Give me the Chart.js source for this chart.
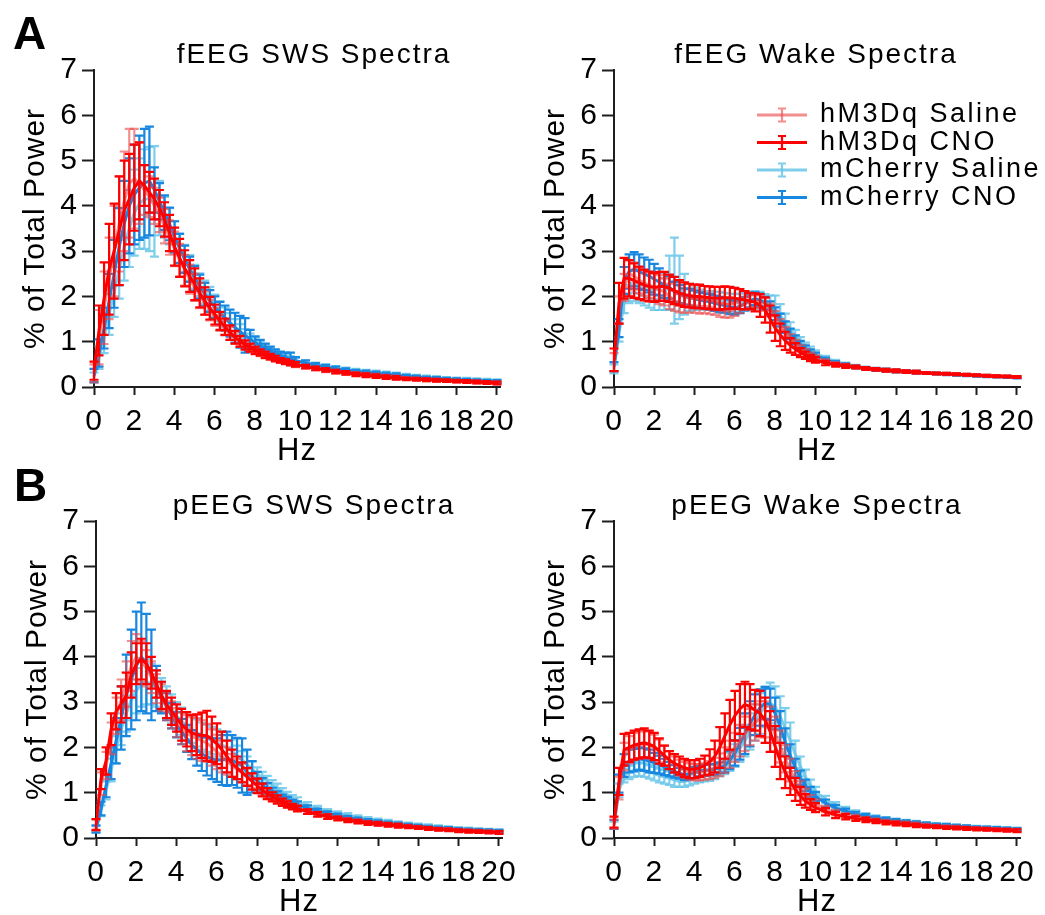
<!DOCTYPE html>
<html>
<head>
<meta charset="utf-8">
<title>EEG spectra</title>
<script src="https://cdn.jsdelivr.net/npm/chart.js@4.4.1/dist/chart.umd.min.js"></script>
<style>
  html, body { margin: 0; padding: 0; background: #fff; }
  body { position: relative; width: 1045px; height: 915px; overflow: hidden; font-family: "Liberation Sans", Arial, sans-serif; }
  canvas { position: absolute; }
  .letter { position: absolute; font-weight: bold; font-size: 46px; line-height: 1; color: #000; }
  .ptitle { position: absolute; width: 400px; text-align: center; font-size: 28px; line-height: 1; letter-spacing: 2px; white-space: nowrap; color: #000; }
</style>
</head>
<body>
<canvas id="cFSws" width="525" height="470" style="left:0;top:0"></canvas>
<canvas id="cFWake" width="525" height="470" style="left:520px;top:0"></canvas>
<canvas id="cPSws" width="525" height="470" style="left:2px;top:451px"></canvas>
<canvas id="cPWake" width="525" height="470" style="left:520px;top:451px"></canvas>

<div class="letter" style="left:13px;top:10px">A</div>
<div class="letter" style="left:14px;top:462px">B</div>
<div class="ptitle" style="left:114px;top:40px">fEEG SWS Spectra</div>
<div class="ptitle" style="left:616px;top:40px">fEEG Wake Spectra</div>
<div class="ptitle" style="left:114px;top:491px">pEEG SWS Spectra</div>
<div class="ptitle" style="left:617px;top:491px">pEEG Wake Spectra</div>

<script>
const freqHz = [
  0, 0.25, 0.5, 0.75, 1, 1.25, 1.5, 1.75, 2, 2.25,
  2.5, 2.75, 3, 3.25, 3.5, 3.75, 4, 4.25, 4.5, 4.75,
  5, 5.25, 5.5, 5.75, 6, 6.25, 6.5, 6.75, 7, 7.25,
  7.5, 7.75, 8, 8.25, 8.5, 8.75, 9, 9.25, 9.5, 9.75,
  10,
  10.5, 11, 11.5, 12, 12.5, 13, 13.5, 14, 14.5, 15,
  15.5, 16, 16.5, 17, 17.5, 18, 18.5, 19, 19.5, 20
];
const xTickValues = [0, 2, 4, 6, 8, 10, 12, 14, 16, 18, 20];
const yTickValues = [0, 1, 2, 3, 4, 5, 6, 7];
const seriesLabels = ["hM3Dq Saline", "hM3Dq CNO", "mCherry Saline", "mCherry CNO"];

// fEEG SWS
const fSws_hSal = [
  0.3, 1.1, 1.75, 2.4, 3.0, 3.6, 4.1, 4.5, 4.6, 4.5,
  4.35, 4.2, 4.0, 3.8, 3.55, 3.3, 3.05, 2.8, 2.58, 2.38,
  2.2, 2.02, 1.85, 1.7, 1.55, 1.42, 1.3, 1.18, 1.08, 1.0,
  0.92, 0.86, 0.8, 0.75, 0.7, 0.66, 0.62, 0.58, 0.55, 0.52,
  0.49,
  0.45, 0.41, 0.37, 0.34, 0.31, 0.29, 0.27, 0.25, 0.23, 0.21,
  0.19, 0.18, 0.16, 0.15, 0.14, 0.13, 0.12, 0.11, 0.1, 0.09
];
const fSws_hSalSem = [
  0.2, 0.6, 0.8, 0.9, 1.0, 1.05, 1.1, 1.2, 1.1, 0.9,
  0.55, 0.45, 0.4, 0.38, 0.38, 0.38, 0.38, 0.36, 0.34, 0.32,
  0.3, 0.28, 0.26, 0.23, 0.2, 0.18, 0.16, 0.14, 0.12, 0.11,
  0.1, 0.09, 0.08, 0.07, 0.07, 0.06, 0.06, 0.05, 0.05, 0.05,
  0.05,
  0.04, 0.04, 0.04, 0.04, 0.04, 0.04, 0.04, 0.04, 0.04, 0.04,
  0.03, 0.03, 0.03, 0.03, 0.03, 0.03, 0.03, 0.03, 0.03, 0.03
];
const fSws_hCno = [
  0.36, 1.25, 1.95, 2.6, 3.0, 3.45, 3.9, 4.15, 4.4, 4.55,
  4.45, 4.3, 4.15, 3.95, 3.7, 3.4, 3.1, 2.85, 2.62, 2.45,
  2.27, 2.08, 1.9, 1.74, 1.6, 1.46, 1.33, 1.2, 1.1, 1.01,
  0.93, 0.87, 0.81, 0.76, 0.71, 0.67, 0.63, 0.59, 0.56, 0.53,
  0.5,
  0.45, 0.41, 0.38, 0.34, 0.31, 0.28, 0.26, 0.24, 0.22, 0.2,
  0.18, 0.17, 0.16, 0.15, 0.14, 0.13, 0.12, 0.11, 0.1, 0.09
];
const fSws_hCnoSem = [
  0.2, 0.55, 0.8, 1.0, 1.05, 1.2, 1.1, 1.0, 0.95, 0.85,
  0.45, 0.45, 0.45, 0.4, 0.38, 0.4, 0.42, 0.42, 0.4, 0.35,
  0.35, 0.32, 0.3, 0.25, 0.22, 0.2, 0.18, 0.16, 0.14, 0.12,
  0.1, 0.09, 0.08, 0.07, 0.07, 0.06, 0.06, 0.05, 0.05, 0.05,
  0.05,
  0.04, 0.04, 0.04, 0.04, 0.04, 0.04, 0.04, 0.04, 0.04, 0.04,
  0.03, 0.03, 0.03, 0.03, 0.03, 0.03, 0.03, 0.03, 0.03, 0.03
];
const fSws_mSal = [
  0.22, 0.65, 1.1, 1.6, 2.1, 2.6, 3.1, 3.5, 3.85, 4.05,
  4.15, 4.15, 4.1, 3.95, 3.75, 3.55, 3.3, 3.06, 2.84, 2.63,
  2.44, 2.26, 2.1, 1.95, 1.8, 1.67, 1.54, 1.43, 1.32, 1.23,
  1.14, 1.06, 0.99, 0.92, 0.86, 0.8, 0.75, 0.7, 0.66, 0.62,
  0.58,
  0.53, 0.49, 0.45, 0.41, 0.38, 0.35, 0.33, 0.31, 0.29, 0.27,
  0.25, 0.23, 0.21, 0.2, 0.18, 0.17, 0.16, 0.15, 0.14, 0.13
];
const fSws_mSalSem = [
  0.1, 0.25, 0.35, 0.45, 0.55, 0.65, 0.75, 0.85, 0.95, 1.0,
  1.1, 1.15, 1.22, 0.6, 0.45, 0.4, 0.36, 0.33, 0.3, 0.28,
  0.26, 0.25, 0.25, 0.26, 0.24, 0.22, 0.22, 0.2, 0.18, 0.16,
  0.14, 0.12, 0.1, 0.09, 0.08, 0.08, 0.07, 0.07, 0.07, 0.06,
  0.06,
  0.05, 0.05, 0.05, 0.05, 0.05, 0.05, 0.05, 0.05, 0.05, 0.05,
  0.04, 0.04, 0.04, 0.04, 0.04, 0.04, 0.04, 0.04, 0.04, 0.04
];
const fSws_mCno = [
  0.25, 0.75, 1.3, 1.9, 2.5, 3.1, 3.6, 4.0, 4.25, 4.4,
  4.5, 4.55, 4.35, 4.1, 3.85, 3.6, 3.32, 3.06, 2.82, 2.6,
  2.4, 2.22, 2.05, 1.9, 1.76, 1.63, 1.52, 1.41, 1.31, 1.22,
  1.14, 1.06, 0.98, 0.92, 0.86, 0.8, 0.75, 0.7, 0.66, 0.62,
  0.58,
  0.53, 0.48, 0.44, 0.4, 0.37, 0.34, 0.32, 0.3, 0.28, 0.26,
  0.24, 0.22, 0.2, 0.19, 0.17, 0.16, 0.15, 0.14, 0.13, 0.12
];
const fSws_mCnoSem = [
  0.15, 0.3, 0.45, 0.6, 0.75, 0.85, 0.95, 1.05, 1.1, 1.15,
  1.2, 1.2, 0.5, 0.4, 0.38, 0.36, 0.34, 0.32, 0.3, 0.28,
  0.27, 0.26, 0.25, 0.24, 0.24, 0.25, 0.28, 0.3, 0.33, 0.35,
  0.38, 0.2, 0.14, 0.12, 0.1, 0.09, 0.08, 0.08, 0.1, 0.14,
  0.08,
  0.06, 0.05, 0.05, 0.05, 0.04, 0.04, 0.04, 0.04, 0.04, 0.04,
  0.03, 0.03, 0.03, 0.03, 0.03, 0.03, 0.03, 0.03, 0.03, 0.03
];

// fEEG Wake
const fWake_hSal = [
  0.55, 1.7, 2.2, 2.5, 2.45, 2.35, 2.3, 2.25, 2.2, 2.15,
  2.1, 2.0, 1.9, 1.85, 1.82, 1.8, 1.8, 1.78, 1.78, 1.76,
  1.74, 1.7, 1.68, 1.68, 1.72, 1.78, 1.84, 1.88, 1.9, 1.88,
  1.82, 1.7, 1.55, 1.38, 1.22, 1.08, 0.96, 0.86, 0.78, 0.71,
  0.65,
  0.57, 0.51, 0.47, 0.44, 0.41, 0.39, 0.37, 0.35, 0.34, 0.32,
  0.31, 0.3, 0.29, 0.28, 0.27, 0.26, 0.25, 0.24, 0.23, 0.22
];
const fWake_hSalSem = [
  0.2, 0.3, 0.3, 0.3, 0.3, 0.28, 0.28, 0.28, 0.3, 0.32,
  0.3, 0.28, 0.22, 0.2, 0.18, 0.16, 0.16, 0.16, 0.15, 0.15,
  0.15, 0.15, 0.15, 0.15, 0.15, 0.15, 0.14, 0.14, 0.14, 0.14,
  0.14, 0.14, 0.13, 0.12, 0.1, 0.09, 0.08, 0.07, 0.06, 0.05,
  0.05,
  0.04, 0.04, 0.04, 0.03, 0.03, 0.03, 0.03, 0.03, 0.03, 0.03,
  0.02, 0.02, 0.02, 0.02, 0.02, 0.02, 0.02, 0.02, 0.02, 0.02
];
const fWake_hCno = [
  0.6, 1.85, 2.4, 2.4, 2.35, 2.3, 2.25, 2.22, 2.2, 2.22,
  2.22, 2.18, 2.13, 2.08, 2.04, 2.02, 2.0, 2.0, 1.98, 1.97,
  1.96, 1.96, 1.97, 1.97, 1.96, 1.94, 1.92, 1.9, 1.87, 1.8,
  1.7, 1.5, 1.3, 1.15, 1.02, 0.92, 0.84, 0.76, 0.7, 0.64,
  0.6,
  0.53, 0.49, 0.46, 0.44, 0.41, 0.39, 0.37, 0.36, 0.34, 0.33,
  0.31, 0.3, 0.29, 0.28, 0.27, 0.26, 0.25, 0.24, 0.23, 0.22
];
const fWake_hCnoSem = [
  0.25, 0.45, 0.45, 0.4, 0.38, 0.36, 0.34, 0.33, 0.32, 0.32,
  0.32, 0.3, 0.3, 0.28, 0.27, 0.26, 0.26, 0.26, 0.25, 0.25,
  0.25, 0.25, 0.25, 0.24, 0.23, 0.22, 0.2, 0.18, 0.2, 0.25,
  0.28, 0.3, 0.28, 0.25, 0.2, 0.16, 0.13, 0.1, 0.08, 0.07,
  0.06,
  0.05, 0.04, 0.04, 0.03, 0.03, 0.03, 0.03, 0.03, 0.03, 0.03,
  0.02, 0.02, 0.02, 0.02, 0.02, 0.02, 0.02, 0.02, 0.02, 0.02
];
const fWake_mSal = [
  0.4, 1.2, 1.85, 2.05, 2.1, 2.05, 2.0, 1.95, 1.92, 1.95,
  2.05, 2.3, 2.35, 2.2, 2.05, 1.98, 1.95, 1.93, 1.92, 1.92,
  1.9, 1.9, 1.88, 1.86, 1.85, 1.86, 1.88, 1.9, 1.92, 1.92,
  1.88, 1.82, 1.72, 1.58, 1.42, 1.27, 1.13, 1.0, 0.9, 0.82,
  0.75,
  0.64, 0.56, 0.5, 0.46, 0.42, 0.4, 0.38, 0.36, 0.34, 0.33,
  0.31, 0.3, 0.29, 0.28, 0.27, 0.26, 0.25, 0.24, 0.23, 0.22
];
const fWake_mSalSem = [
  0.1, 0.2, 0.22, 0.2, 0.2, 0.2, 0.2, 0.2, 0.22, 0.25,
  0.35, 0.6, 0.95, 0.7, 0.45, 0.3, 0.25, 0.22, 0.2, 0.2,
  0.2, 0.2, 0.2, 0.2, 0.2, 0.2, 0.2, 0.2, 0.2, 0.18,
  0.17, 0.2, 0.3, 0.25, 0.2, 0.16, 0.13, 0.1, 0.08, 0.07,
  0.06,
  0.05, 0.04, 0.04, 0.03, 0.03, 0.03, 0.03, 0.03, 0.03, 0.03,
  0.02, 0.02, 0.02, 0.02, 0.02, 0.02, 0.02, 0.02, 0.02, 0.02
];
const fWake_mCno = [
  0.45, 1.3, 2.35, 2.55, 2.6, 2.55, 2.5, 2.45, 2.38, 2.32,
  2.25, 2.2, 2.1, 2.05, 2.0, 1.98, 1.95, 1.92, 1.9, 1.88,
  1.85, 1.82, 1.8, 1.77, 1.75, 1.78, 1.84, 1.9, 1.95, 1.92,
  1.85, 1.75, 1.62, 1.48, 1.32, 1.17, 1.04, 0.93, 0.84, 0.76,
  0.7,
  0.6, 0.53, 0.48, 0.44, 0.41, 0.39, 0.37, 0.35, 0.34, 0.32,
  0.31, 0.3, 0.28, 0.27, 0.26, 0.25, 0.24, 0.23, 0.22, 0.21
];
const fWake_mCnoSem = [
  0.1, 0.2, 0.3, 0.38, 0.38, 0.38, 0.36, 0.36, 0.34, 0.3,
  0.28, 0.25, 0.22, 0.2, 0.18, 0.18, 0.18, 0.17, 0.17, 0.17,
  0.17, 0.17, 0.16, 0.16, 0.15, 0.15, 0.15, 0.14, 0.14, 0.14,
  0.14, 0.14, 0.14, 0.14, 0.13, 0.12, 0.1, 0.09, 0.08, 0.07,
  0.06,
  0.05, 0.04, 0.04, 0.03, 0.03, 0.03, 0.03, 0.03, 0.03, 0.03,
  0.02, 0.02, 0.02, 0.02, 0.02, 0.02, 0.02, 0.02, 0.02, 0.02
];

// pEEG SWS
const pSws_hSal = [
  0.28, 1.2, 1.6, 2.2, 2.7, 3.05, 3.4, 3.8, 4.0, 3.9,
  3.75, 3.55, 3.3, 3.1, 2.9, 2.72, 2.55, 2.42, 2.32, 2.25,
  2.2, 2.15, 2.1, 2.0, 1.9, 1.8, 1.7, 1.6, 1.52, 1.44,
  1.35, 1.26, 1.17, 1.08, 1.0, 0.93, 0.86, 0.8, 0.75, 0.7,
  0.66,
  0.59, 0.53, 0.48, 0.44, 0.4, 0.37, 0.34, 0.32, 0.3, 0.28,
  0.26, 0.24, 0.22, 0.2, 0.19, 0.17, 0.16, 0.15, 0.14, 0.13
];
const pSws_hSalSem = [
  0.12, 0.25, 0.3, 0.35, 0.4, 0.45, 0.5, 0.55, 0.5, 0.45,
  0.4, 0.35, 0.32, 0.3, 0.3, 0.3, 0.32, 0.35, 0.4, 0.42,
  0.45, 0.45, 0.42, 0.4, 0.38, 0.35, 0.3, 0.25, 0.22, 0.2,
  0.18, 0.16, 0.14, 0.12, 0.1, 0.09, 0.08, 0.07, 0.07, 0.06,
  0.06,
  0.05, 0.05, 0.05, 0.04, 0.04, 0.04, 0.04, 0.04, 0.04, 0.04,
  0.03, 0.03, 0.03, 0.03, 0.03, 0.03, 0.03, 0.03, 0.03, 0.03
];
const pSws_hCno = [
  0.3, 1.3, 1.7, 2.4, 2.8, 2.95, 3.15, 3.6, 3.85, 3.95,
  3.85, 3.65, 3.4, 3.15, 2.95, 2.8, 2.65, 2.5, 2.4, 2.32,
  2.28, 2.27, 2.26, 2.18, 2.08, 1.95, 1.8, 1.65, 1.55, 1.45,
  1.35, 1.25, 1.15, 1.06, 0.98, 0.91, 0.85, 0.79, 0.74, 0.69,
  0.65,
  0.58, 0.52, 0.47, 0.43, 0.39, 0.36, 0.33, 0.31, 0.29, 0.27,
  0.25, 0.23, 0.21, 0.19, 0.18, 0.16, 0.15, 0.14, 0.13, 0.12
];
const pSws_hCnoSem = [
  0.12, 0.22, 0.3, 0.35, 0.4, 0.4, 0.5, 0.5, 0.45, 0.45,
  0.45, 0.35, 0.3, 0.3, 0.3, 0.3, 0.3, 0.35, 0.38, 0.4,
  0.45, 0.5, 0.55, 0.5, 0.45, 0.4, 0.35, 0.3, 0.25, 0.22,
  0.2, 0.18, 0.16, 0.14, 0.12, 0.1, 0.09, 0.08, 0.07, 0.06,
  0.06,
  0.05, 0.05, 0.05, 0.04, 0.04, 0.04, 0.04, 0.04, 0.04, 0.04,
  0.03, 0.03, 0.03, 0.03, 0.03, 0.03, 0.03, 0.03, 0.03, 0.03
];
const pSws_mSal = [
  0.2, 0.6, 1.05, 1.5, 1.95, 2.4, 2.75, 3.05, 3.25, 3.4,
  3.45, 3.4, 3.3, 3.15, 3.0, 2.85, 2.7, 2.58, 2.48, 2.4,
  2.32, 2.25, 2.2, 2.15, 2.1, 2.05, 2.0, 1.92, 1.82, 1.72,
  1.62, 1.52, 1.42, 1.33, 1.25, 1.17, 1.1, 1.0, 0.92, 0.85,
  0.8,
  0.72, 0.65, 0.59, 0.54, 0.5, 0.46, 0.42, 0.39, 0.36, 0.33,
  0.31, 0.29, 0.27, 0.25, 0.23, 0.21, 0.2, 0.18, 0.17, 0.16
];
const pSws_mSalSem = [
  0.06, 0.12, 0.2, 0.25, 0.3, 0.35, 0.4, 0.45, 0.5, 0.5,
  0.5, 0.45, 0.4, 0.38, 0.35, 0.32, 0.3, 0.3, 0.3, 0.3,
  0.3, 0.3, 0.3, 0.3, 0.3, 0.3, 0.28, 0.25, 0.22, 0.2,
  0.18, 0.16, 0.14, 0.13, 0.12, 0.11, 0.1, 0.1, 0.1, 0.1,
  0.1,
  0.07, 0.06, 0.05, 0.05, 0.05, 0.04, 0.04, 0.04, 0.04, 0.04,
  0.03, 0.03, 0.03, 0.03, 0.03, 0.03, 0.03, 0.03, 0.03, 0.03
];
const pSws_mCno = [
  0.2, 0.65, 1.15, 1.65, 2.15, 2.65, 3.15, 3.5, 3.8, 4.0,
  3.85, 3.6, 3.3, 3.1, 2.9, 2.7, 2.5, 2.35, 2.2, 2.06,
  1.95, 1.86, 1.8, 1.75, 1.72, 1.72, 1.75, 1.72, 1.66, 1.6,
  1.45, 1.35, 1.26, 1.17, 1.09, 1.01, 0.94, 0.88, 0.83, 0.78,
  0.74,
  0.66, 0.6, 0.54, 0.49, 0.45, 0.41, 0.38, 0.35, 0.32, 0.3,
  0.28, 0.26, 0.24, 0.22, 0.21, 0.19, 0.18, 0.17, 0.16, 0.15
];
const pSws_mCnoSem = [
  0.08, 0.15, 0.25, 0.35, 0.5, 0.7, 0.9, 1.1, 1.2, 1.2,
  1.1, 1.0, 0.5, 0.35, 0.3, 0.28, 0.28, 0.28, 0.3, 0.32,
  0.35, 0.38, 0.42, 0.45, 0.48, 0.55, 0.6, 0.55, 0.55, 0.6,
  0.5, 0.35, 0.2, 0.15, 0.12, 0.1, 0.09, 0.08, 0.08, 0.07,
  0.07,
  0.06, 0.05, 0.05, 0.05, 0.04, 0.04, 0.04, 0.04, 0.04, 0.04,
  0.03, 0.03, 0.03, 0.03, 0.03, 0.03, 0.03, 0.03, 0.03, 0.03
];

// pEEG Wake
const pWake_hSal = [
  0.3, 1.1, 1.8, 1.95, 2.02, 2.05, 2.08, 2.05, 2.0, 1.92,
  1.82, 1.72, 1.62, 1.55, 1.5, 1.47, 1.45, 1.45, 1.47, 1.5,
  1.55, 1.62, 1.72, 1.85, 2.0, 2.15, 2.3, 2.45, 2.55, 2.62,
  2.62, 2.5, 2.3, 2.02, 1.75, 1.5, 1.28, 1.1, 0.96, 0.85,
  0.76,
  0.64, 0.56, 0.5, 0.46, 0.42, 0.39, 0.36, 0.34, 0.32, 0.3,
  0.28, 0.26, 0.25, 0.24, 0.22, 0.21, 0.2, 0.19, 0.18, 0.17
];
const pWake_hSalSem = [
  0.1, 0.25, 0.3, 0.3, 0.3, 0.3, 0.3, 0.3, 0.28, 0.25,
  0.22, 0.2, 0.18, 0.18, 0.18, 0.18, 0.18, 0.18, 0.18, 0.2,
  0.22, 0.25, 0.28, 0.3, 0.32, 0.35, 0.38, 0.4, 0.4, 0.4,
  0.4, 0.4, 0.38, 0.35, 0.3, 0.25, 0.2, 0.16, 0.13, 0.1,
  0.09,
  0.07, 0.06, 0.05, 0.05, 0.04, 0.04, 0.04, 0.04, 0.04, 0.04,
  0.03, 0.03, 0.03, 0.03, 0.03, 0.03, 0.03, 0.03, 0.03, 0.03
];
const pWake_hCno = [
  0.35, 1.25, 1.95, 2.0, 2.05, 2.08, 2.1, 2.07, 2.02, 1.92,
  1.82, 1.72, 1.65, 1.6, 1.55, 1.52, 1.52, 1.55, 1.6, 1.68,
  1.8, 2.0, 2.25, 2.5, 2.7, 2.85, 2.95, 2.9, 2.82, 2.75,
  2.6, 2.35, 2.02, 1.7, 1.45, 1.25, 1.07, 0.93, 0.82, 0.74,
  0.67,
  0.58, 0.51, 0.47, 0.43, 0.4, 0.37, 0.34, 0.32, 0.3, 0.28,
  0.26, 0.25, 0.23, 0.22, 0.21, 0.2, 0.19, 0.18, 0.17, 0.16
];
const pWake_hCnoSem = [
  0.12, 0.3, 0.35, 0.32, 0.32, 0.32, 0.32, 0.3, 0.3, 0.28,
  0.22, 0.2, 0.2, 0.2, 0.2, 0.2, 0.2, 0.2, 0.22, 0.28,
  0.35, 0.45, 0.5, 0.55, 0.55, 0.55, 0.5, 0.5, 0.45, 0.5,
  0.5, 0.45, 0.45, 0.4, 0.35, 0.3, 0.25, 0.2, 0.15, 0.12,
  0.1,
  0.08, 0.07, 0.06, 0.05, 0.05, 0.04, 0.04, 0.04, 0.04, 0.04,
  0.03, 0.03, 0.03, 0.03, 0.03, 0.03, 0.03, 0.03, 0.03, 0.03
];
const pWake_mSal = [
  0.28, 1.05, 1.38, 1.45, 1.5, 1.52, 1.5, 1.46, 1.42, 1.38,
  1.35, 1.32, 1.28, 1.25, 1.25, 1.28, 1.32, 1.35, 1.37, 1.38,
  1.42, 1.48, 1.56, 1.68, 1.82, 1.98, 2.15, 2.35, 2.55, 2.75,
  2.9, 2.98, 2.9, 2.68, 2.42, 2.15, 1.85, 1.58, 1.35, 1.17,
  1.03,
  0.85, 0.72, 0.63, 0.56, 0.5, 0.46, 0.42, 0.39, 0.36, 0.34,
  0.32, 0.3, 0.28, 0.27, 0.25, 0.24, 0.23, 0.22, 0.21, 0.2
];
const pWake_mSalSem = [
  0.08, 0.15, 0.15, 0.15, 0.15, 0.15, 0.15, 0.15, 0.15, 0.15,
  0.15, 0.15, 0.15, 0.12, 0.12, 0.12, 0.12, 0.12, 0.12, 0.12,
  0.12, 0.12, 0.15, 0.2, 0.25, 0.3, 0.35, 0.4, 0.4, 0.45,
  0.45, 0.45, 0.45, 0.45, 0.45, 0.4, 0.3, 0.22, 0.16, 0.12,
  0.1,
  0.08, 0.07, 0.06, 0.05, 0.05, 0.04, 0.04, 0.04, 0.04, 0.04,
  0.03, 0.03, 0.03, 0.03, 0.03, 0.03, 0.03, 0.03, 0.03, 0.03
];
const pWake_mCno = [
  0.3, 1.2, 1.6, 1.7, 1.72, 1.75, 1.73, 1.7, 1.66, 1.62,
  1.57, 1.52, 1.47, 1.43, 1.4, 1.42, 1.45, 1.48, 1.5, 1.5,
  1.52, 1.55, 1.6, 1.72, 1.88, 2.08, 2.3, 2.52, 2.72, 2.88,
  2.98, 2.95, 2.75, 2.45, 2.12, 1.82, 1.55, 1.33, 1.16, 1.02,
  0.92,
  0.77, 0.66, 0.59, 0.53, 0.48, 0.44, 0.41, 0.38, 0.35, 0.33,
  0.31, 0.29, 0.28, 0.26, 0.25, 0.23, 0.22, 0.21, 0.2, 0.19
];
const pWake_mCnoSem = [
  0.1, 0.2, 0.25, 0.25, 0.25, 0.25, 0.25, 0.25, 0.22, 0.2,
  0.18, 0.16, 0.14, 0.12, 0.12, 0.12, 0.12, 0.12, 0.12, 0.12,
  0.12, 0.12, 0.15, 0.2, 0.28, 0.35, 0.45, 0.5, 0.45, 0.4,
  0.35, 0.35, 0.35, 0.35, 0.3, 0.25, 0.2, 0.16, 0.13, 0.11,
  0.1,
  0.08, 0.07, 0.06, 0.05, 0.05, 0.04, 0.04, 0.04, 0.04, 0.04,
  0.03, 0.03, 0.03, 0.03, 0.03, 0.03, 0.03, 0.03, 0.03, 0.03
];

const FONT = '"Liberation Sans", Arial, sans-serif';
const AXIS_COLOR = "#1e1e1e";
// hM3Dq Saline, hM3Dq CNO, mCherry Saline, mCherry CNO
const seriesColors = ["rgba(236,72,72,0.62)", "#ff0000", "rgba(104,198,232,0.85)", "#1787e0"];
// lower order is drawn on top
const seriesOrder = [1, 0, 3, 2];

// the figure's lettering is a little wider than plain Arial
const spacingPlugin = {
  id: "letterSpacing",
  beforeDraw(chart) {
    if ("letterSpacing" in chart.ctx) chart.ctx.letterSpacing = "1px";
  },
};

const errorBarPlugin = {
  id: "errorBars",
  afterDatasetDraw(chart, args) {
    const ds = chart.data.datasets[args.index];
    if (!ds.sem) return;
    const ctx = chart.ctx;
    const xs = chart.scales.x;
    const ys = chart.scales.y;
    ctx.save();
    ctx.strokeStyle = ds.borderColor;
    ctx.lineWidth = 2.2;
    ds.data.forEach((p, i) => {
      const px = xs.getPixelForValue(p.x);
      const top = ys.getPixelForValue(p.y + ds.sem[i]);
      const bot = ys.getPixelForValue(p.y - ds.sem[i]);
      ctx.beginPath();
      ctx.moveTo(px, top);
      ctx.lineTo(px, bot);
      ctx.moveTo(px - 4.5, top);
      ctx.lineTo(px + 4.5, top);
      ctx.moveTo(px - 4.5, bot);
      ctx.lineTo(px + 4.5, bot);
      ctx.stroke();
    });
    ctx.restore();
  },
};

const legendPlugin = {
  id: "spectraLegend",
  afterDraw(chart, args, opts) {
    if (!opts || !opts.show) return;
    const ctx = chart.ctx;
    const a = chart.chartArea;
    ctx.save();
    ctx.font = opts.fontSize + "px " + FONT;
    ctx.textBaseline = "middle";
    ctx.textAlign = "left";
    if ("letterSpacing" in ctx) ctx.letterSpacing = opts.spacing;
    chart.data.datasets.forEach((ds, i) => {
      const y = a.top + opts.top + i * opts.rowGap;
      const x0 = a.left + opts.left;
      const cx = x0 + opts.lineLen / 2;
      ctx.strokeStyle = ds.borderColor;
      ctx.lineWidth = 3;
      ctx.beginPath();
      ctx.moveTo(x0, y);
      ctx.lineTo(x0 + opts.lineLen, y);
      ctx.stroke();
      ctx.lineWidth = 2.2;
      ctx.beginPath();
      ctx.moveTo(cx, y - 6.5);
      ctx.lineTo(cx, y + 6.5);
      ctx.moveTo(cx - 4, y - 6.5);
      ctx.lineTo(cx + 4, y - 6.5);
      ctx.moveTo(cx - 4, y + 6.5);
      ctx.lineTo(cx + 4, y + 6.5);
      ctx.stroke();
      ctx.fillStyle = "#000";
      ctx.fillText(ds.label, x0 + opts.lineLen + opts.textGap, y);
    });
    ctx.restore();
  },
};

function buildSpectraChart(canvasId, means, sems, showLegend) {
  const datasets = means.map((mean, k) => ({
    label: seriesLabels[k],
    data: freqHz.map((f, i) => ({ x: f, y: mean[i] })),
    sem: sems[k],
    borderColor: seriesColors[k],
    backgroundColor: seriesColors[k],
    borderWidth: 3,
    pointRadius: 0,
    tension: 0,
    fill: false,
    order: seriesOrder[k],
  }));

  return new Chart(document.getElementById(canvasId), {
    type: "line",
    data: { datasets },
    options: {
      responsive: false,
      animation: false,
      devicePixelRatio: 1,
      layout: { padding: { left: 0, right: 25, top: 70, bottom: 0 } },
      plugins: {
        legend: { display: false },
        tooltip: { enabled: false },
        spectraLegend: { show: showLegend, left: 143, top: 45, rowGap: 27.5, lineLen: 50, textGap: 13, fontSize: 27, spacing: "2.5px" },
      },
      scales: {
        x: {
          type: "linear",
          min: 0,
          max: 20.15,
          afterBuildTicks: (s) => { s.ticks = xTickValues.map((v) => ({ value: v })); },
          afterFit: (s) => { s.height = 83; },
          grid: { drawOnChartArea: false, tickLength: 8, tickWidth: 2, tickColor: AXIS_COLOR },
          border: { color: AXIS_COLOR, width: 2 },
          ticks: { color: "#000", font: { family: FONT, size: 30 }, padding: 9, autoSkip: false, maxRotation: 0, minRotation: 0 },
          title: { display: true, text: "Hz", color: "#000", font: { family: FONT, size: 31 }, padding: { top: 0, bottom: 0 } },
        },
        y: {
          type: "linear",
          min: 0,
          max: 7,
          afterBuildTicks: (s) => { s.ticks = yTickValues.map((v) => ({ value: v })); },
          afterFit: (s) => { s.width = 94; },
          grid: { drawOnChartArea: false, tickLength: 12, tickWidth: 2, tickColor: AXIS_COLOR },
          border: { color: AXIS_COLOR, width: 2 },
          ticks: { color: "#000", font: { family: FONT, size: 30 }, padding: 4 },
          title: { display: true, text: "% of Total Power", color: "#000", font: { family: FONT, size: 30 }, padding: { top: 18, bottom: 0 } },
        },
      },
    },
    plugins: [spacingPlugin, errorBarPlugin, legendPlugin],
  });
}

buildSpectraChart("cFSws",
  [fSws_hSal, fSws_hCno, fSws_mSal, fSws_mCno],
  [fSws_hSalSem, fSws_hCnoSem, fSws_mSalSem, fSws_mCnoSem], false);
buildSpectraChart("cFWake",
  [fWake_hSal, fWake_hCno, fWake_mSal, fWake_mCno],
  [fWake_hSalSem, fWake_hCnoSem, fWake_mSalSem, fWake_mCnoSem], true);
buildSpectraChart("cPSws",
  [pSws_hSal, pSws_hCno, pSws_mSal, pSws_mCno],
  [pSws_hSalSem, pSws_hCnoSem, pSws_mSalSem, pSws_mCnoSem], false);
buildSpectraChart("cPWake",
  [pWake_hSal, pWake_hCno, pWake_mSal, pWake_mCno],
  [pWake_hSalSem, pWake_hCnoSem, pWake_mSalSem, pWake_mCnoSem], false);
</script>
</body>
</html>
